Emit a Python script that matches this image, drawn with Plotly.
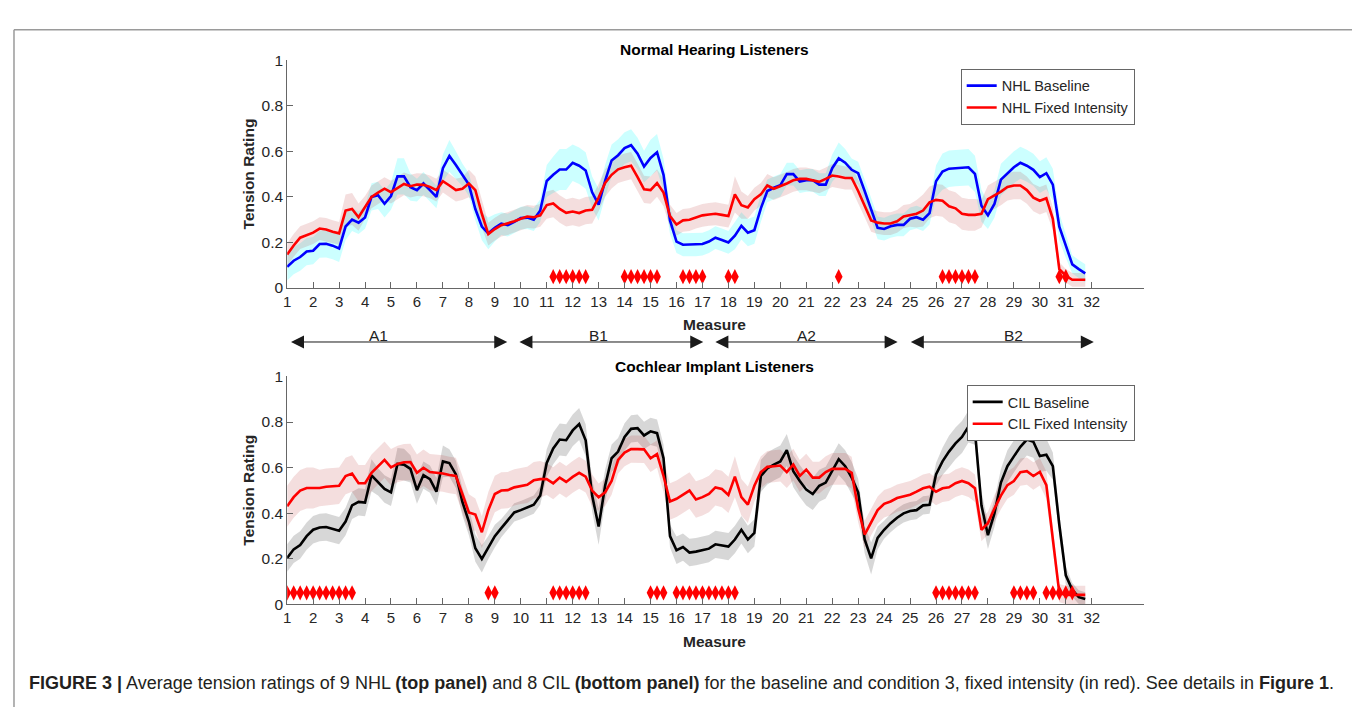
import numpy as np
import plotly.graph_objects as go

# ---------------- data ----------------
MEASURE_POS = np.arange(1, 32, 0.25)          # quarter-measure positions 1.00 .. 31.75
TICK_VALUES = list(range(1, 33))
TICK_LABELS = [str(v) for v in TICK_VALUES]
Y_TICKS = [0, 0.2, 0.4, 0.6, 0.8, 1]
Y_TICK_LABELS = ["0", "0.2", "0.4", "0.6", "0.8", "1"]

nhl_baseline = [
    0.093, 0.12, 0.136, 0.16, 0.164, 0.193, 0.194, 0.186, 0.174, 0.27, 0.30, 0.287,
    0.31, 0.40, 0.407, 0.37, 0.404, 0.49, 0.49, 0.443, 0.43, 0.459, 0.43, 0.40,
    0.526, 0.58, 0.54, 0.497, 0.454, 0.347, 0.27, 0.24, 0.264, 0.283, 0.276, 0.29,
    0.307, 0.309, 0.30, 0.34, 0.47, 0.497, 0.52, 0.52, 0.55, 0.537, 0.516, 0.42,
    0.366, 0.47, 0.56, 0.583, 0.614, 0.627, 0.59, 0.533, 0.571, 0.596, 0.497, 0.297,
    0.204, 0.19, 0.19, 0.19, 0.193, 0.204, 0.221, 0.211, 0.20, 0.23, 0.273, 0.243,
    0.254, 0.35, 0.426, 0.44, 0.451, 0.50, 0.50, 0.467, 0.473, 0.473, 0.454, 0.454,
    0.526, 0.569, 0.55, 0.519, 0.504, 0.426, 0.347, 0.264, 0.259, 0.271, 0.277, 0.277,
    0.304, 0.311, 0.30, 0.329, 0.469, 0.511, 0.524, 0.527, 0.53, 0.53, 0.501, 0.361,
    0.319, 0.369, 0.476, 0.504, 0.53, 0.55, 0.537, 0.519, 0.487, 0.504, 0.454, 0.269,
    0.183, 0.104, 0.083, 0.064]
nhl_baseline_sem = [
    .06, .06, .06, .06, .06, .06, .06, .06, .06, .06, .05, .05,
    .05, .06, .06, .06, .06, .08, .08, .06, .05, .05, .05, .05,
    .06, .07, .06, .05, .05, .05, .06, .07, .06, .05, .05, .05,
    .05, .05, .05, .05, .07, .08, .09, .09, .08, .08, .08, .07,
    .07, .07, .07, .07, .07, .07, .07, .07, .08, .08, .07, .06,
    .05, .05, .05, .05, .05, .05, .05, .05, .05, .06, .06, .06,
    .06, .06, .05, .05, .05, .05, .05, .05, .05, .05, .05, .05,
    .06, .07, .06, .05, .05, .05, .05, .05, .05, .05, .05, .05,
    .05, .05, .05, .05, .07, .08, .08, .08, .08, .08, .08, .07,
    .06, .06, .07, .07, .07, .07, .07, .07, .07, .07, .07, .06,
    .05, .04, .04, .04]
nhl_fixed = [
    0.147, 0.187, 0.221, 0.233, 0.243, 0.261, 0.257, 0.247, 0.24, 0.34, 0.347, 0.311,
    0.354, 0.40, 0.419, 0.436, 0.421, 0.44, 0.457, 0.447, 0.454, 0.453, 0.444, 0.43,
    0.469, 0.45, 0.43, 0.436, 0.459, 0.43, 0.326, 0.237, 0.259, 0.276, 0.283, 0.293,
    0.304, 0.314, 0.311, 0.319, 0.364, 0.371, 0.347, 0.33, 0.336, 0.329, 0.34, 0.343,
    0.397, 0.461, 0.497, 0.521, 0.53, 0.537, 0.487, 0.433, 0.43, 0.461, 0.419, 0.316,
    0.279, 0.297, 0.30, 0.311, 0.319, 0.323, 0.326, 0.321, 0.316, 0.411, 0.364, 0.354,
    0.39, 0.411, 0.45, 0.436, 0.447, 0.459, 0.473, 0.479, 0.479, 0.473, 0.466, 0.479,
    0.494, 0.49, 0.483, 0.483, 0.426, 0.361, 0.297, 0.287, 0.283, 0.283, 0.293, 0.314,
    0.319, 0.326, 0.34, 0.376, 0.387, 0.383, 0.359, 0.35, 0.326, 0.321, 0.321, 0.326,
    0.39, 0.407, 0.423, 0.444, 0.45, 0.45, 0.43, 0.397, 0.383, 0.394, 0.304, 0.083,
    0.054, 0.036, 0.036, 0.036]
nhl_fixed_sem = [
    .05, .05, .05, .05, .05, .05, .05, .05, .05, .07, .07, .06,
    .05, .05, .05, .05, .05, .05, .05, .05, .05, .05, .05, .05,
    .05, .05, .05, .05, .06, .06, .06, .05, .05, .05, .05, .05,
    .05, .05, .05, .05, .06, .06, .06, .06, .06, .06, .06, .06,
    .06, .06, .06, .06, .06, .06, .06, .06, .06, .06, .06, .05,
    .05, .05, .05, .05, .05, .05, .05, .05, .05, .08, .06, .05,
    .05, .05, .05, .05, .05, .05, .05, .05, .05, .05, .05, .05,
    .05, .05, .05, .05, .05, .05, .05, .05, .05, .05, .05, .05,
    .05, .06, .07, .07, .07, .07, .07, .07, .07, .07, .07, .06,
    .06, .06, .06, .06, .06, .06, .06, .06, .06, .06, .05, .03,
    .03, .03, .03, .03]
cil_baseline = [
    0.203, 0.241, 0.26, 0.299, 0.327, 0.337, 0.339, 0.331, 0.323, 0.363, 0.434, 0.449,
    0.446, 0.566, 0.537, 0.506, 0.491, 0.616, 0.613, 0.594, 0.501, 0.567, 0.549, 0.494,
    0.627, 0.62, 0.57, 0.449, 0.363, 0.246, 0.199, 0.249, 0.299, 0.334, 0.37, 0.403,
    0.413, 0.424, 0.437, 0.477, 0.62, 0.684, 0.723, 0.72, 0.763, 0.791, 0.72, 0.477,
    0.341, 0.52, 0.641, 0.67, 0.734, 0.77, 0.773, 0.741, 0.759, 0.751, 0.641, 0.299,
    0.237, 0.251, 0.227, 0.231, 0.237, 0.244, 0.263, 0.259, 0.253, 0.284, 0.327, 0.284,
    0.313, 0.563, 0.596, 0.613, 0.627, 0.677, 0.584, 0.541, 0.503, 0.484, 0.52, 0.534,
    0.589, 0.637, 0.606, 0.556, 0.491, 0.284, 0.201, 0.291, 0.327, 0.356, 0.38, 0.399,
    0.409, 0.413, 0.434, 0.437, 0.57, 0.627, 0.67, 0.706, 0.734, 0.78, 0.76, 0.434,
    0.303, 0.399, 0.534, 0.606, 0.649, 0.691, 0.723, 0.713, 0.651, 0.656, 0.606, 0.349,
    0.127, 0.063, 0.031, 0.023]
cil_baseline_sem = [
    .06, .06, .06, .06, .06, .06, .06, .06, .06, .06, .06, .06,
    .06, .07, .06, .06, .06, .07, .07, .06, .06, .06, .06, .06,
    .07, .06, .06, .06, .06, .06, .06, .05, .05, .04, .04, .04,
    .04, .04, .04, .04, .06, .07, .07, .07, .07, .07, .07, .07,
    .08, .07, .06, .06, .06, .06, .06, .06, .06, .06, .06, .05,
    .06, .06, .06, .06, .06, .06, .06, .06, .06, .06, .06, .06,
    .06, .07, .07, .07, .07, .07, .07, .07, .07, .07, .07, .07,
    .07, .07, .07, .07, .06, .06, .07, .05, .04, .04, .04, .04,
    .04, .04, .04, .04, .05, .06, .07, .07, .07, .07, .06, .06,
    .06, .06, .06, .07, .07, .07, .07, .07, .07, .07, .06, .05,
    .04, .03, .03, .03]
cil_fixed = [
    0.43, 0.47, 0.499, 0.51, 0.51, 0.51, 0.516, 0.517, 0.52, 0.563, 0.574, 0.531,
    0.531, 0.577, 0.606, 0.634, 0.601, 0.616, 0.623, 0.624, 0.577, 0.599, 0.58, 0.577,
    0.574, 0.567, 0.563, 0.484, 0.403, 0.394, 0.316, 0.413, 0.484, 0.499, 0.501, 0.513,
    0.52, 0.524, 0.544, 0.549, 0.549, 0.531, 0.556, 0.537, 0.559, 0.577, 0.56, 0.499,
    0.47, 0.491, 0.541, 0.634, 0.666, 0.681, 0.681, 0.68, 0.641, 0.659, 0.563, 0.451,
    0.463, 0.481, 0.499, 0.46, 0.47, 0.484, 0.513, 0.506, 0.48, 0.56, 0.47, 0.437,
    0.52, 0.58, 0.603, 0.606, 0.609, 0.58, 0.613, 0.563, 0.591, 0.556, 0.556, 0.58,
    0.594, 0.594, 0.594, 0.577, 0.42, 0.306, 0.363, 0.413, 0.441, 0.451, 0.466, 0.473,
    0.481, 0.494, 0.509, 0.516, 0.494, 0.509, 0.513, 0.531, 0.541, 0.531, 0.509, 0.327,
    0.356, 0.42, 0.477, 0.523, 0.541, 0.58, 0.584, 0.563, 0.581, 0.523, 0.291, 0.049,
    0.041, 0.041, 0.041, 0.041]
cil_fixed_sem = [
    .09, .09, .09, .09, .09, .08, .08, .08, .08, .08, .08, .08,
    .08, .08, .08, .08, .08, .08, .08, .08, .08, .08, .08, .08,
    .08, .08, .08, .08, .08, .07, .07, .08, .08, .08, .08, .08,
    .08, .08, .08, .08, .07, .07, .07, .07, .07, .07, .07, .07,
    .06, .06, .06, .06, .06, .06, .06, .06, .06, .06, .07, .08,
    .08, .08, .08, .08, .08, .08, .08, .08, .08, .09, .08, .08,
    .07, .07, .07, .07, .07, .07, .07, .07, .07, .07, .07, .07,
    .07, .07, .07, .07, .06, .06, .06, .06, .06, .06, .06, .06,
    .06, .06, .06, .06, .06, .06, .06, .06, .06, .06, .06, .05,
    .05, .06, .06, .06, .06, .06, .06, .06, .06, .06, .05, .04,
    .04, .04, .04, .04]

nhl_significant = [11.25, 11.5, 11.75, 12, 12.25, 12.5, 14, 14.25, 14.5, 14.75, 15, 15.25,
                   16.25, 16.5, 16.75, 17, 18, 18.25, 22.25,
                   26.25, 26.5, 26.75, 27, 27.25, 27.5, 30.75, 31]
cil_significant = [1, 1.25, 1.5, 1.75, 2, 2.25, 2.5, 2.75, 3, 3.25, 3.5, 8.75, 9,
                   11.25, 11.5, 11.75, 12, 12.25, 12.5, 15, 15.25, 15.5,
                   16, 16.25, 16.5, 16.75, 17, 17.25, 17.5, 17.75, 18, 18.25,
                   26, 26.25, 26.5, 26.75, 27, 27.25, 27.5, 29, 29.25, 29.5, 29.75,
                   30.25, 30.5, 30.75, 31, 31.25]
SIG_LEVEL = 0.05

sections = ["A1", "B1", "A2", "B2"]
section_start = [1.09, 9.89, 17.44, 24.97]
section_end = [9.48, 17.03, 24.52, 32.08]
section_label_x = [4.53, 12.99, 21.0, 28.97]

# ---------------- figure ----------------
W, H = 1360, 707
FONT = "Liberation Sans, Arial, sans-serif"
TXT = "#262626"

def px_x(p):
    return p / W

def px_y(p):
    return 1 - p / H

fig = go.Figure()

def add_band(mean, sem, color, xaxis, yaxis):
    m = np.array(mean)
    s = np.array(sem)
    xs = np.concatenate([MEASURE_POS, MEASURE_POS[::-1]])
    ys = np.concatenate([m + s, (m - s)[::-1]])
    fig.add_trace(go.Scatter(x=xs, y=ys, fill="toself", fillcolor=color,
                             line=dict(width=0), mode="lines", hoverinfo="skip",
                             showlegend=False, xaxis=xaxis, yaxis=yaxis))

def add_line(mean, name, color, xaxis, yaxis, legend):
    fig.add_trace(go.Scatter(x=MEASURE_POS, y=mean, mode="lines", name=name,
                             line=dict(color=color, width=2.6),
                             xaxis=xaxis, yaxis=yaxis, legend=legend))

def add_sig(positions, xaxis, yaxis):
    fig.add_trace(go.Scatter(x=positions, y=[SIG_LEVEL] * len(positions), mode="markers",
                             marker=dict(symbol="diamond-tall", size=11, color="#ff0000",
                                         line=dict(width=0)),
                             showlegend=False, xaxis=xaxis, yaxis=yaxis))

CYAN = "rgba(0,255,255,0.20)"
PINK = "rgba(178,34,34,0.15)"
GREY = "rgba(110,110,110,0.28)"

# top panel
add_band(nhl_baseline, nhl_baseline_sem, CYAN, "x", "y")
add_band(nhl_fixed, nhl_fixed_sem, PINK, "x", "y")
add_line(nhl_baseline, "NHL Baseline", "#0000ff", "x", "y", "legend")
add_line(nhl_fixed, "NHL Fixed Intensity", "#ff0000", "x", "y", "legend")
add_sig(nhl_significant, "x", "y")

# bottom panel
add_band(cil_baseline, cil_baseline_sem, GREY, "x2", "y2")
add_band(cil_fixed, cil_fixed_sem, PINK, "x2", "y2")
add_line(cil_baseline, "CIL Baseline", "#000000", "x2", "y2", "legend2")
add_line(cil_fixed, "CIL Fixed Intensity", "#ff0000", "x2", "y2", "legend2")
add_sig(cil_significant, "x2", "y2")

AX_LEFT, AX_RIGHT = 276, 1135
TOP_Y0, TOP_Y1 = 277.7, 44.3
BOT_Y0, BOT_Y1 = 601.7, 368.3

xcommon = dict(range=[1, 34], tickvals=TICK_VALUES, ticktext=TICK_LABELS,
               ticks="inside", ticklen=6, tickcolor="#666", showline=True,
               linecolor="#666", linewidth=1, showgrid=False, zeroline=False,
               tickfont=dict(family=FONT, size=15, color=TXT),
               domain=[px_x(AX_LEFT), px_x(AX_RIGHT)], fixedrange=True)
ycommon = dict(range=[0, 1], tickvals=Y_TICKS, ticktext=Y_TICK_LABELS,
               ticks="inside", ticklen=6, tickcolor="#666", showline=True,
               linecolor="#666", linewidth=1, showgrid=False, zeroline=False,
               tickfont=dict(family=FONT, size=15.5, color=TXT), fixedrange=True)

fig.update_layout(
    width=W, height=H, margin=dict(l=0, r=0, t=0, b=0),
    paper_bgcolor="white", plot_bgcolor="rgba(0,0,0,0)",
    xaxis=dict(**xcommon, anchor="y"),
    yaxis=dict(**ycommon, anchor="x", domain=[px_y(TOP_Y0), px_y(TOP_Y1)]),
    xaxis2=dict(**xcommon, anchor="y2"),
    yaxis2=dict(**ycommon, anchor="x2", domain=[px_y(BOT_Y0), px_y(BOT_Y1)]),
    legend=dict(x=px_x(1126), y=px_y(53), xanchor="right", yanchor="top",
                bgcolor="white", bordercolor="#666", borderwidth=1,
                font=dict(family=FONT, size=14.5, color=TXT), tracegroupgap=0,
                itemwidth=30),
    legend2=dict(x=px_x(1126), y=px_y(377), xanchor="right", yanchor="top",
                 bgcolor="white", bordercolor="#666", borderwidth=1,
                 font=dict(family=FONT, size=14.5, color=TXT), tracegroupgap=0,
                 itemwidth=30),
    showlegend=True,
)

ann = []
cx = (AX_LEFT + AX_RIGHT) / 2 - 1
for title, ty, my, yc in [("Normal Hearing Listeners", 33, 315, (TOP_Y0 + TOP_Y1) / 2),
                          ("Cochlear Implant Listeners", 358, 640, (BOT_Y0 + BOT_Y1) / 2)]:
    ann.append(dict(text="<b>%s</b>" % title, x=px_x(cx), y=px_y(ty), xref="paper", yref="paper",
                    showarrow=False, xanchor="center", yanchor="middle",
                    font=dict(family=FONT, size=15.5, color="#000")))
    ann.append(dict(text="<b>Measure</b>", x=px_x(cx), y=px_y(my), xref="paper", yref="paper",
                    showarrow=False, xanchor="center", yanchor="middle",
                    font=dict(family=FONT, size=15.5, color=TXT)))
    ann.append(dict(text="<b>Tension Rating</b>", x=px_x(237), y=px_y(yc), xref="paper", yref="paper",
                    showarrow=False, xanchor="center", yanchor="middle", textangle=-90,
                    font=dict(family=FONT, size=15.5, color=TXT)))

# section arrows between the panels (x in top-axis data coordinates, y in paper)
for name, s0, s1, lx in zip(sections, section_start, section_end, section_label_x):
    ann.append(dict(text="", x=s1, y=px_y(333), ax=s0, ay=0, xref="x", yref="paper",
                    axref="x", ayref="pixel", showarrow=True, arrowside="end+start",
                    arrowhead=2, startarrowhead=2, arrowsize=2.6, startarrowsize=2.6,
                    arrowwidth=1, arrowcolor="#1a1a1a", standoff=0, startstandoff=0))
    ann.append(dict(text=name, x=lx, y=px_y(326), xref="x", yref="paper", showarrow=False,
                    xanchor="center", yanchor="middle",
                    font=dict(family=FONT, size=15.5, color="#222")))

caption = ("<b>FIGURE 3 |</b> Average tension ratings of 9 NHL <b>(top panel)</b> and 8 CIL "
           "<b>(bottom panel)</b> for the baseline and condition 3, fixed intensity (in red). "
           "See details in <b>Figure 1</b>.")
ann.append(dict(text=caption, x=px_x(15), y=px_y(682), xref="paper", yref="paper",
                showarrow=False, xanchor="left", yanchor="middle",
                font=dict(family=FONT, size=18.0, color="#231f20")))
fig.update_layout(annotations=ann)

# frame around the figure
FRAME = "#9a9a9a"
fig.update_layout(shapes=[
    dict(type="line", xref="paper", yref="paper", x0=px_x(2), x1=px_x(1355),
         y0=px_y(13), y1=px_y(13), line=dict(color=FRAME, width=1.5)),
    dict(type="line", xref="paper", yref="paper", x0=px_x(2), x1=px_x(2),
         y0=px_y(13), y1=px_y(707), line=dict(color=FRAME, width=1.5)),
    dict(type="line", xref="paper", yref="paper", x0=px_x(1355), x1=px_x(1355),
         y0=px_y(13), y1=px_y(707), line=dict(color=FRAME, width=1.5)),
])

fig.write_html("out.html", config={"displayModeBar": False})
